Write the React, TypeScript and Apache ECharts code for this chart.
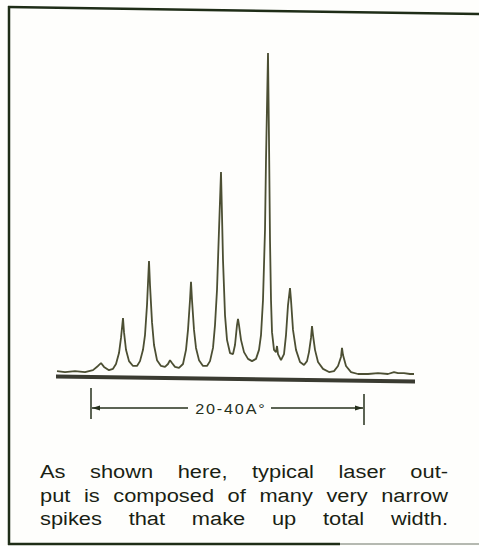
import React, { useEffect, useRef } from "react";
import * as echarts from "echarts";

// Spectrum trace: position (arbitrary units) and relative intensity (0-100)
const positions = [
  0, 8, 18, 28, 36, 41, 44, 47, 52, 56, 59, 62, 64, 66, 67, 69, 72, 76, 80, 83, 86, 88, 90, 92, 93, 95, 97,
  100, 104, 108, 111, 113, 115, 118, 122, 126, 129, 131, 133, 134, 135, 137, 139, 142, 146, 150, 153, 156,
  158, 160, 162, 164, 165, 166, 168, 170, 173, 176, 178, 180, 181, 182, 184, 187, 191, 195, 199, 202, 204,
  206, 208, 209, 211, 212, 213, 214, 215, 217, 219, 220, 221, 224, 227, 229, 231, 233, 234, 236, 239, 243,
  247, 250, 252, 254, 255, 256, 258, 261, 266, 272, 277, 281, 284, 285, 286, 289, 294, 301, 311, 321, 331,
  337, 341, 347, 353, 357,
];
const intensity = [
  0.9, 0.6, 0.9, 0.6, 1.2, 2.5, 3.4, 2.2, 1.2, 1.6, 3.1, 6.5, 11.2, 17.4, 13.0, 7.5, 4.0, 2.5, 2.5, 4.0, 7.5,
  12.1, 21.4, 35.1, 27.6, 16.1, 9.0, 4.3, 2.5, 2.2, 3.1, 4.3, 3.4, 2.2, 1.9, 3.1, 7.5, 13.7, 23.0, 28.6, 23.0,
  13.7, 8.1, 4.3, 2.5, 2.5, 4.0, 8.1, 15.2, 26.1, 44.7, 62.7, 49.4, 35.4, 18.3, 10.6, 6.5, 6.2, 9.0, 15.2,
  17.1, 15.2, 10.6, 6.8, 4.7, 4.0, 4.7, 7.5, 12.1, 23.0, 44.7, 66.5, 99.7, 72.7, 41.6, 23.0, 13.0, 7.5, 6.8,
  8.7, 6.2, 4.3, 6.2, 12.1, 21.4, 26.7, 23.0, 13.7, 7.5, 3.7, 2.8, 4.0, 6.8, 11.2, 14.9, 12.1, 7.5, 3.7, 1.6,
  0.6, 0.9, 2.5, 5.3, 8.1, 5.9, 2.5, 0.6, 0, 0, 0.3, 0, 0.6, 0.3, 0.3, 0, 0,
];

const spanLabel = "20-40A°";
const captionLines = [
  ["As", "shown", "here,", "typical", "laser", "out-"],
  ["put", "is", "composed", "of", "many", "very", "narrow"],
  ["spikes", "that", "make", "up", "total", "width."],
];

let measureCtx: CanvasRenderingContext2D | null = null;
function measure(text: string, font: string): number {
  if (!measureCtx) measureCtx = document.createElement("canvas").getContext("2d");
  if (!measureCtx) return text.length * 8;
  measureCtx.font = font;
  return measureCtx.measureText(text).width;
}

export default function App() {
  const ref = useRef<HTMLDivElement>(null);

  useEffect(() => {
    if (!ref.current) return;
    const chart = echarts.init(ref.current, null, { renderer: "svg" });

    const ink = "#26301c";
    const traceColor = "#4c4f33";

    // caption, justified between x=40 and x=448
    const capFont = '19px "Liberation Sans", Arial, sans-serif';
    const capScale = 1.15;
    const capLeft = 40;
    const capRight = 448;
    const capMid = [471.5, 495.5, 518.5];
    const captionEls: any[] = [];
    captionLines.forEach((words, li) => {
      const widths = words.map((w) => measure(w, capFont) * capScale);
      const total = widths.reduce((a, b) => a + b, 0);
      const gap = (capRight - capLeft - total) / (words.length - 1);
      let x = capLeft;
      words.forEach((w, i) => {
        captionEls.push({
          type: "text",
          x,
          y: capMid[li],
          scaleX: capScale,
          silent: true,
          style: {
            text: w,
            font: capFont,
            fill: "#1a1f14",
            textAlign: "left",
            align: "left",
            textVerticalAlign: "middle",
            verticalAlign: "middle",
          },
        });
        x += widths[i] + gap;
      });
    });

    // dimension label with letter spacing, centred at x=230
    const lblFont = '500 15px "Liberation Sans", Arial, sans-serif';
    const lblScale = 1.08;
    const lblSpacing = 1.8;
    const chars = spanLabel.split("");
    const cw = chars.map((c) => measure(c, lblFont) * lblScale);
    const lblTotal = cw.reduce((a, b) => a + b, 0) + lblSpacing * (chars.length - 1);
    let lx = 230 - lblTotal / 2;
    const labelEls: any[] = chars.map((c, i) => {
      const el = {
        type: "text",
        x: lx,
        y: 408.5,
        scaleX: lblScale,
        silent: true,
        style: {
          text: c,
          font: lblFont,
          fill: ink,
          textAlign: "left",
          align: "left",
          textVerticalAlign: "middle",
          verticalAlign: "middle",
        },
      };
      lx += cw[i] + lblSpacing;
      return el;
    });

    const frame = [
      { type: "line", shape: { x1: 8, y1: 7, x2: 479, y2: 14 }, style: { stroke: "#1f2d17", lineWidth: 2.5 } },
      { type: "line", shape: { x1: 9, y1: 6, x2: 9, y2: 545 }, style: { stroke: "#1f2d17", lineWidth: 2.5 } },
      { type: "line", shape: { x1: 8, y1: 544, x2: 340, y2: 544 }, style: { stroke: "#1f2d17", lineWidth: 2.5 } },
      { type: "line", shape: { x1: 340, y1: 544, x2: 479, y2: 544 }, style: { stroke: "#6d7466", lineWidth: 1 } },
    ];

    const baseBar = {
      type: "polygon",
      silent: true,
      shape: { points: [[56, 374.5], [415, 379.5], [415, 383.5], [56, 378.5]] },
      style: { fill: "#3a3b31" },
    };

    const dimension = [
      { type: "line", shape: { x1: 91, y1: 388, x2: 91, y2: 419 }, style: { stroke: ink, lineWidth: 1.5 } },
      { type: "line", shape: { x1: 364, y1: 394, x2: 364, y2: 425 }, style: { stroke: ink, lineWidth: 1.5 } },
      { type: "line", shape: { x1: 92, y1: 408, x2: 188, y2: 408 }, style: { stroke: ink, lineWidth: 1.3 } },
      { type: "line", shape: { x1: 271, y1: 408, x2: 363, y2: 408 }, style: { stroke: ink, lineWidth: 1.3 } },
      { type: "polygon", shape: { points: [[92, 408], [100, 405.5], [100, 410.5]] }, style: { fill: ink } },
      { type: "polygon", shape: { points: [[363, 408], [355, 405.5], [355, 410.5]] }, style: { fill: ink } },
    ];

    chart.setOption({
      animation: false,
      backgroundColor: "#fefefc",
      grid: { left: 57, right: 62, top: 52, bottom: 172 },
      xAxis: { type: "value", min: 0, max: 360, show: false },
      yAxis: { type: "value", min: 0, max: 100, show: false },
      series: [
        {
          type: "line",
          data: positions.map((p, i) => [p, intensity[i]]),
          showSymbol: false,
          smooth: false,
          clip: false,
          lineStyle: { color: traceColor, width: 1.8 },
          silent: true,
        },
      ],
      graphic: [...frame, baseBar, ...dimension, ...labelEls, ...captionEls],
    });

    return () => chart.dispose();
  }, []);

  return (
    <div
      ref={ref}
      style={{ position: "absolute", left: 0, top: 0, width: 479, height: 546 }}
    />
  );
}
